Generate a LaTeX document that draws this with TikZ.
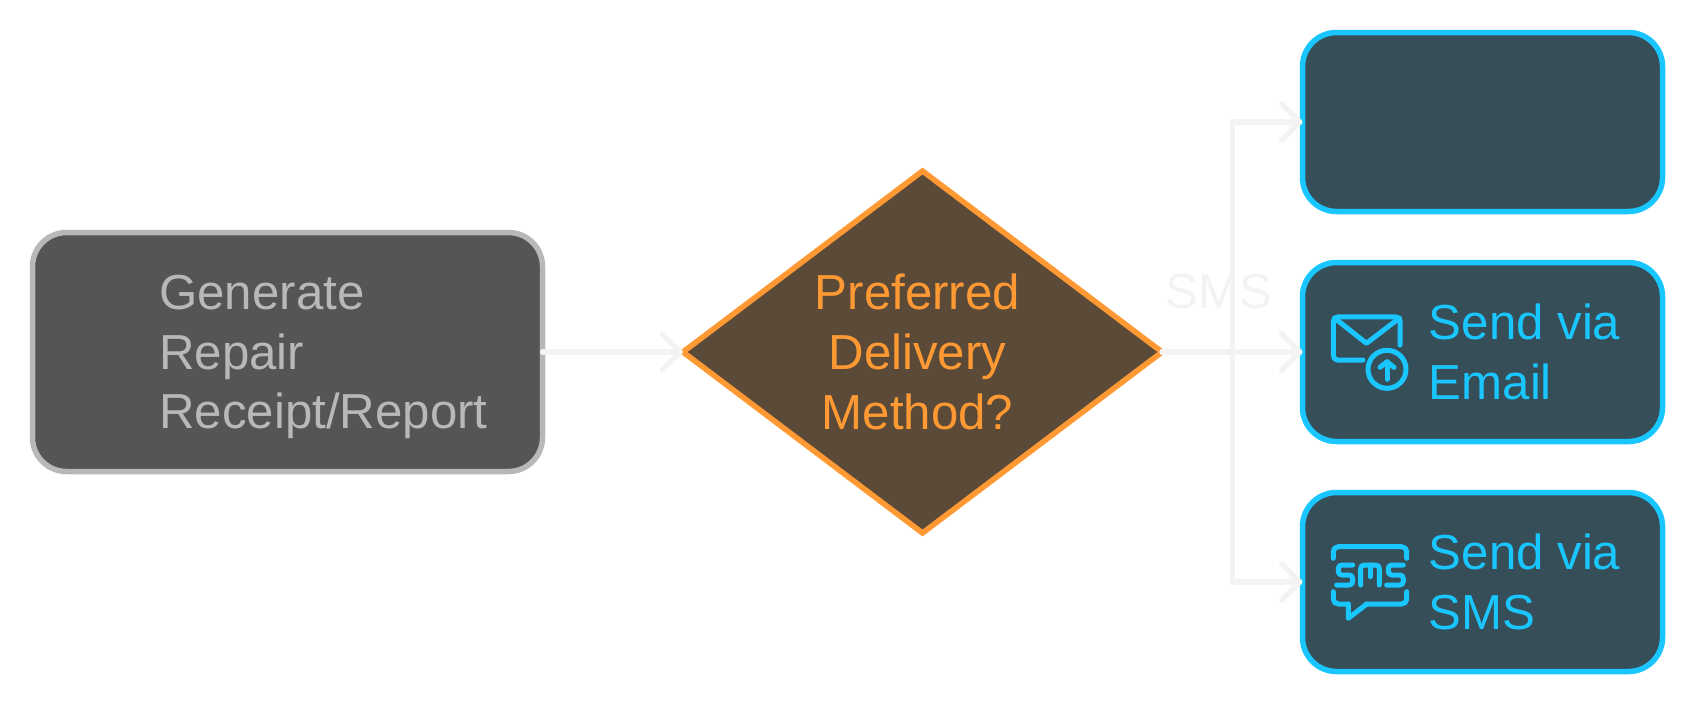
\documentclass[tikz,border=0pt]{standalone}
\usepackage{fontspec}
\setmainfont{Liberation Sans}
\usetikzlibrary{positioning, arrows.meta, shapes.geometric}
\definecolor{genfill}{HTML}{555555}
\definecolor{genline}{HTML}{B8B8B8}
\definecolor{askfill}{HTML}{5C4A38}
\definecolor{askline}{HTML}{FF9933}
\definecolor{sendfill}{HTML}{364E58}
\definecolor{sendline}{HTML}{1AC6FF}
\definecolor{flowline}{HTML}{F3F3F3}

\begin{document}
\begin{tikzpicture}
        [
            genbox/.style = {draw=genline, fill=genfill, line width=0.11cm, rounded corners=0.68cm, minimum width=10.2cm, minimum height=4.78cm, outer sep=0pt},
            askbox/.style = {draw=askline, fill=askfill, line width=0.11cm, diamond, inner sep=0pt, minimum width=9.58cm, minimum height=7.24cm, outer sep=0pt},
            sendbox/.style = {draw=sendline, fill=sendfill, line width=0.11cm, rounded corners=0.68cm, minimum width=7.2cm, minimum height=3.58cm, outer sep=0pt},
            boxtext/.style = {inner sep=0pt, font=\fontsize{28}{34}\selectfont},
            iconline/.style = {shift={(#1.center)}, x=0.02cm, y=-0.02cm, draw=sendline, line width=0.1cm, line cap=round, line join=round},
            flow/.style = {->, draw=flowline, line width=0.11cm, line cap=round},
            >={Straight Barb[length=0.36cm, width=0.72cm, round]}
        ]%
        \useasboundingbox (0,0) rectangle (33.9,14.1);
        \node[genbox] (generate) at (5.75,7.06) {};
        \node[boxtext, right = 2.53cm of generate.west, yshift=-0.1cm, text=genline, align=left] (generatetext) {Generate\\Repair\\Receipt/Report};
        \node[askbox, right = 2.81cm of generate] (preferred) {};
        \node[boxtext, text=askline, align=center, xshift=-0.1cm] (preferredtext) at (preferred) {Preferred\\Delivery\\Method?};
        \node[sendbox, right = 2.81cm of preferred] (email) {};
        \node[sendbox, above = 1.02cm of email] (blank) {};
        \node[sendbox, below = 1.02cm of email] (sms) {};
        \node[boxtext, right = 2.52cm of email.west, text=sendline, align=left] (emailtext) {Send via\\Email};
        \node[boxtext, right = 2.52cm of sms.west, text=sendline, align=left] (smstext) {Send via\\SMS};
        \coordinate[right = 1.41cm of preferred.east] (split);
        \node[boxtext, above = 0.85cm of split, xshift=-0.27cm, text=flowline] (smslabel) {SMS};
        \draw[flow] (generate.east) -- (preferred.west);
        \draw[flow] (preferred.east) -- (email.west);
        \draw[flow] (split) |- (blank.west);
        \draw[flow] (split) |- (sms.west);
        \begin{scope}[iconline=email]
            \draw[rounded corners=0.08cm] (-119.5,8) -- (-149,8) -- (-149,-35) -- (-82.5,-35) -- (-82.5,-7);
            \draw (-148,-34) -- (-116,-8.7) -- (-83,-34);
            \draw (-95.5,17.3) circle (19);
            \draw (-95.5,27.3) -- (-95.5,9.7);
            \draw (-102.5,15.3) -- (-95.5,9.7) -- (-88.5,15.3);
        \end{scope}
        \begin{scope}[iconline=sms]
            \draw[rounded corners=0.1cm] (-149.2,-23.7) -- (-149.2,-35.3) -- (-75.8,-35.3) -- (-75.8,-23.7);
            \draw[rounded corners=0.1cm] (-149.2,9.7) -- (-149.2,22) -- (-134.2,22);
            \draw (-134.2,22) -- (-134.2,36.3) -- (-115.8,22);
            \draw[rounded corners=0.1cm] (-115.8,22) -- (-75.8,22) -- (-75.8,9.7);
            \draw[rounded corners=0.07cm] (-129.8,-17) -- (-144.2,-17) -- (-144.2,-7) -- (-129.8,-7) -- (-129.8,3) -- (-145.8,3);
            \draw[rounded corners=0.07cm] (-121.8,3) -- (-121.8,-17) -- (-103.2,-17) -- (-103.2,3);
            \draw (-112.5,-17) -- (-112.5,-5.3);
            \draw[rounded corners=0.07cm] (-79.2,-17) -- (-94.2,-17) -- (-94.2,-7) -- (-79.2,-7) -- (-79.2,3) -- (-95.8,3);
        \end{scope}
        \end{tikzpicture}
\end{document}
